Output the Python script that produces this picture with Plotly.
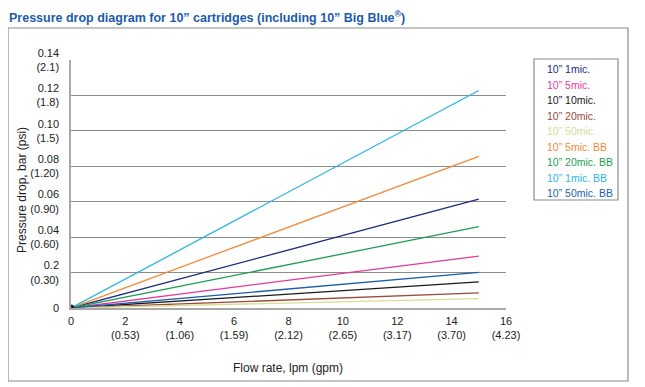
import plotly.graph_objects as go

flow = [0, 15]
series_names = ["10” 1mic.", "10” 5mic.", "10” 10mic.", "10” 20mic.", "10” 50mic.",
                "10” 5mic. BB", "10” 20mic. BB", "10” 1mic. BB", "10” 50mic. BB"]
series_end = [0.0614, 0.0293, 0.0147, 0.0085, 0.0053, 0.0856, 0.0459, 0.1228, 0.0201]
series_colors = ["#1c2a7e", "#e6399b", "#1a1a1a", "#9a4b3c", "#d9dd97",
                 "#f28a3c", "#1e9e55", "#2bb5df", "#1d5fa8"]

x_tickvals = [0, 2, 4, 6, 8, 10, 12, 14, 16]
x_ticktext = ["0", "2<br>(0.53)", "4<br>(1.06)", "6<br>(1.59)", "8<br>(2.12)",
              "10<br>(2.65)", "12<br>(3.17)", "14<br>(3.70)", "16<br>(4.23)"]
y_tickvals = [0, 0.02, 0.04, 0.06, 0.08, 0.10, 0.12, 0.14]
y_ticktext = ["0", "0.2<br>(0.30)", "0.04<br>(0.60)", "0.06<br>(0.90)", "0.08<br>(1.20)",
              "0.10<br>(1.5)", "0.12<br>(1.8)", "0.14<br>(2.1)"]

FONT = "Liberation Sans, Arial, sans-serif"

fig = go.Figure()
for name, end, col in zip(series_names, series_end, series_colors):
    fig.add_trace(go.Scatter(x=flow, y=[0, end], mode="lines", name=name,
                             line=dict(color=col, width=1.3), showlegend=False))
# origin dot
fig.add_trace(go.Scatter(x=flow[:1], y=[0], mode="markers",
                         marker=dict(color="#222222", size=7), showlegend=False))

# page body has an 8px margin; coordinates below are screen pixels
OFF = 8
FW, FH = 637, 379
L, R, T, B = 71 - OFF, 506 - OFF, 60 - OFF, 308 - OFF
W, H = R - L, B - T
def px(x):
    return (x - OFF - L) / W
def py(y):
    return (B - (y - OFF)) / H

shapes = [
    dict(type="rect", xref="paper", yref="paper", x0=px(8), x1=px(628), y0=py(381), y1=py(28),
         line=dict(color="#8a8a8a", width=1.2)),
    dict(type="rect", xref="paper", yref="paper", x0=px(534), x1=px(618), y0=py(200), y1=py(59),
         line=dict(color="#8a8a8a", width=1.2)),
]

annotations = [
    dict(text="Pressure drop diagram for 10” cartridges (including 10” Big Blue<sup>®</sup>)",
         xref="paper", yref="paper", x=px(8), y=py(8), xanchor="left", yanchor="top",
         borderpad=0, showarrow=False,
         font=dict(family=FONT, size=12.5, color="#1b5ca8", weight="bold")),
    dict(text="Pressure drop, bar (psi)", xref="paper", yref="paper", x=px(22), y=py(190),
         xanchor="center", yanchor="middle", textangle=-90, showarrow=False,
         font=dict(family=FONT, size=12, color="#222222")),
    dict(text="Flow rate, lpm (gpm)", xref="paper", yref="paper", x=px(288), y=py(368),
         xanchor="center", yanchor="middle", showarrow=False,
         font=dict(family=FONT, size=12, color="#222222")),
]
leg_y0, leg_dy = 69, 15.5
for i, (name, col) in enumerate(zip(series_names, series_colors)):
    annotations.append(dict(text=name, xref="paper", yref="paper", x=px(545), y=py(leg_y0 + i * leg_dy),
                            xanchor="left", yanchor="middle", showarrow=False,
                            font=dict(family=FONT, size=10.5, color=col)))

fig.update_layout(
    width=FW, height=FH,
    margin=dict(l=L, r=FW - R, t=T, b=FH - B),
    paper_bgcolor="white", plot_bgcolor="white",
    font=dict(family=FONT, size=11, color="#222222"),
    shapes=shapes, annotations=annotations,
    xaxis=dict(range=[0, 16], tickvals=x_tickvals, ticktext=x_ticktext, showgrid=False,
               showline=True, linecolor="#a8a8a8", linewidth=1.5, zeroline=False,
               ticks="outside", ticklen=2, tickcolor="rgba(0,0,0,0)", tickfont=dict(size=11),
               automargin=False),
    yaxis=dict(range=[0, 0.14], tickvals=y_tickvals, ticktext=y_ticktext, showgrid=True,
               gridcolor="#8c8c8c", gridwidth=1.2, showline=True, linecolor="#a8a8a8",
               linewidth=1.5, zeroline=False, ticks="outside", ticklen=8, tickcolor="rgba(0,0,0,0)",
               tickfont=dict(size=11), automargin=False),
)

fig.write_html("out.html")
